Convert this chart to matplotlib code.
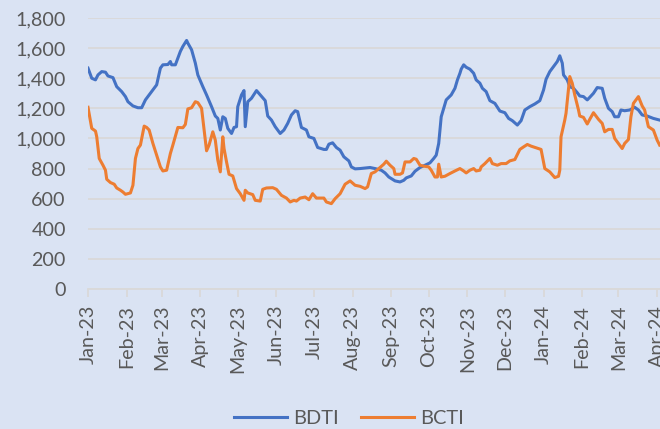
import matplotlib
matplotlib.use("Agg")
import matplotlib.pyplot as plt
import matplotlib.dates as mdates
import matplotlib.ticker as mticker
import pandas as pd

# ---- data (days since 2023-01-01, index values) ----
start_date = "2023-01-01"

bdti_days = [0, 3, 6, 8, 11, 14, 16, 20, 23, 27, 30, 32, 36, 40, 43, 46, 48, 51, 55, 58,
             60, 64, 66, 67, 70, 74, 76, 79, 80, 83, 86, 88, 92, 95, 99, 102, 104, 106, 108, 110,
             112, 115, 117, 119, 120, 123, 125, 126, 128, 131, 135, 138, 142, 144, 147, 150, 154, 157, 160, 163,
             166, 168, 171, 175, 177, 181, 184, 189, 191, 193, 196, 199, 202, 205, 209, 211, 214, 218, 226, 230,
             235, 238, 241, 246, 250, 253, 255, 259, 262, 266, 270, 274, 277, 279, 281, 283, 287, 291, 294, 296,
             298, 299, 301, 303, 306, 309, 311, 314, 316, 319, 322, 326, 330, 334, 337, 340, 344, 347, 350, 354,
             358, 362, 365, 367, 370, 373, 376, 378, 380, 381, 384, 386, 389, 392, 394, 397, 400, 402, 405, 408,
             412, 414, 417, 420, 422, 425, 427, 430, 434, 438, 441, 444, 448, 453, 458]
bdti = [1467, 1400, 1389, 1422, 1444, 1440, 1415, 1404, 1344, 1311, 1278, 1244, 1216, 1204, 1204, 1256, 1278, 1311, 1356, 1467,
        1489, 1491, 1511, 1489, 1489, 1578, 1611, 1651, 1633, 1589, 1500, 1422, 1344, 1289, 1211, 1149, 1133, 1056, 1144, 1133,
        1067, 1033, 1073, 1078, 1211, 1289, 1318, 1078, 1244, 1267, 1318, 1289, 1251, 1149, 1122, 1078, 1033, 1056, 1100, 1156,
        1184, 1178, 1073, 1056, 1011, 1000, 940, 927, 927, 962, 971, 940, 922, 878, 851, 811, 798, 800, 807, 800,
        789, 771, 744, 718, 711, 722, 738, 751, 782, 807, 822, 838, 867, 889, 967, 1144, 1256, 1289, 1333, 1389,
        1433, 1460, 1489, 1473, 1460, 1433, 1389, 1367, 1333, 1311, 1251, 1233, 1182, 1171, 1133, 1118, 1089, 1118, 1189, 1211,
        1229, 1251, 1322, 1393, 1444, 1478, 1511, 1549, 1500, 1422, 1389, 1344, 1333, 1304, 1282, 1278, 1256, 1273, 1300, 1338,
        1333, 1267, 1200, 1178, 1144, 1144, 1189, 1184, 1189, 1207, 1189, 1156, 1149, 1133, 1122]

bcti_days = [0, 3, 6, 7, 9, 12, 14, 15, 18, 21, 23, 26, 28, 30, 34, 36, 38, 40, 42, 45,
             47, 49, 52, 55, 58, 60, 63, 66, 68, 72, 76, 78, 80, 83, 86, 88, 91, 93, 95, 97,
             100, 102, 104, 106, 108, 109, 111, 113, 116, 119, 122, 125, 126, 128, 132, 134, 138, 140, 143, 148,
             151, 155, 159, 162, 165, 167, 170, 174, 177, 180, 183, 189, 191, 195, 198, 202, 206, 210, 214, 218,
             222, 224, 227, 230, 234, 237, 239, 242, 245, 246, 250, 252, 254, 258, 261, 263, 266, 269, 273, 275,
             278, 280, 281, 283, 286, 290, 294, 298, 301, 303, 306, 309, 311, 314, 315, 318, 322, 324, 328, 331,
             335, 338, 342, 346, 349, 352, 355, 359, 363, 366, 370, 374, 377, 378, 379, 382, 383, 386, 388, 390,
             393, 394, 397, 400, 402, 405, 409, 412, 414, 417, 420, 422, 425, 428, 430, 433, 435, 437, 441, 444,
             446, 449, 453, 456, 458]
bcti = [1207, 1067, 1049, 1011, 867, 822, 789, 729, 707, 696, 671, 656, 644, 629, 638, 689, 867, 933, 956, 1082,
        1073, 1056, 967, 889, 811, 784, 789, 900, 956, 1073, 1071, 1093, 1196, 1204, 1244, 1238, 1200, 1056, 918, 956,
        1044, 989, 856, 778, 1011, 933, 844, 762, 751, 667, 633, 589, 656, 638, 627, 589, 584, 662, 671, 673,
        662, 622, 604, 578, 589, 584, 604, 611, 593, 633, 604, 604, 578, 567, 600, 633, 696, 718, 689, 682,
        667, 678, 767, 778, 807, 829, 849, 822, 800, 762, 762, 771, 844, 844, 867, 862, 822, 816, 811, 789,
        744, 744, 829, 744, 749, 767, 784, 800, 784, 771, 789, 800, 784, 789, 811, 833, 867, 833, 822, 833,
        833, 851, 860, 927, 944, 960, 949, 938, 927, 800, 778, 740, 749, 789, 1011, 1122, 1167, 1411, 1367, 1289,
        1189, 1149, 1140, 1096, 1127, 1171, 1127, 1100, 1044, 1060, 1060, 1000, 967, 933, 967, 993, 1144, 1233, 1278, 1216,
        1189, 1078, 1056, 989, 956]

series_names = ["BDTI", "BCTI"]
series_colors = ["#4472C4", "#ED7D31"]
y_ticks = [0, 200, 400, 600, 800, 1000, 1200, 1400, 1600, 1800]

base = pd.Timestamp(start_date)
bdti_dates = base + pd.to_timedelta(bdti_days, unit="D")
bcti_dates = base + pd.to_timedelta(bcti_days, unit="D")

plt.rcParams["font.family"] = ["Lato", "DejaVu Sans"]
bg = "#DAE3F3"
txt = "#595959"
grid = "#D9D9D9"

fig = plt.figure(figsize=(6.6, 4.29), dpi=100, facecolor=bg)
ax = fig.add_axes([88 / 660, 140 / 429, 572 / 660, 271 / 429])
ax.set_facecolor(bg)

ax.plot(bdti_dates, bdti, color=series_colors[0], lw=2.2, label=series_names[0],
        solid_joinstyle="round", zorder=3)
ax.plot(bcti_dates, bcti, color=series_colors[1], lw=2.2, label=series_names[1],
        solid_joinstyle="round", zorder=3)

ax.set_ylim(0, 1800)
ax.set_yticks(y_ticks)
ax.yaxis.set_major_formatter(mticker.FuncFormatter(lambda v, p: f"{int(v):,}"))
ax.set_xlim(base, base + pd.Timedelta(days=458.3))
ax.xaxis.set_major_locator(mdates.MonthLocator())
ax.xaxis.set_major_formatter(mdates.DateFormatter("%b-%y"))

ax.grid(axis="y", color=grid, lw=1.3, zorder=0)
ax.set_axisbelow(True)
for s in ["top", "right", "left"]:
    ax.spines[s].set_visible(False)
ax.spines["bottom"].set_color(grid)
ax.spines["bottom"].set_linewidth(1.3)

ax.tick_params(axis="y", length=0, pad=16, labelsize=14.2, labelcolor=txt)
ax.tick_params(axis="x", length=5.5, width=1.3, color=grid, pad=6, labelsize=14.2,
               labelcolor=txt, labelrotation=90)

fig.legend(loc="center", bbox_to_anchor=(349 / 660, 11 / 429), ncol=2, frameon=False,
           fontsize=14.4, labelcolor=txt, handlelength=2.65, handletextpad=0.3,
           columnspacing=1.1)

fig.savefig("out.png", dpi=100, facecolor=bg)
